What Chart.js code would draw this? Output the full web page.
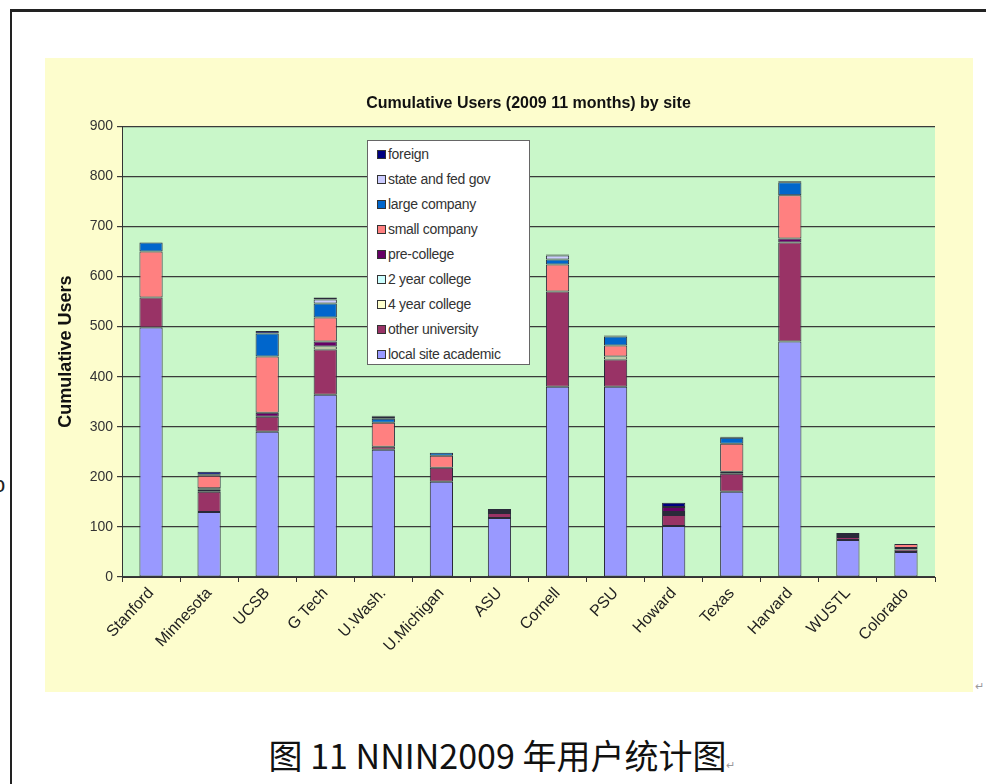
<!DOCTYPE html>
<html lang="zh">
<head>
    <meta charset="UTF-8">
    <title>Cumulative Users (2009 11 months) by site</title>
    <script src="https://cdn.jsdelivr.net/npm/chart.js"></script>
    <style>
        body {
            margin: 0;
            width: 986px;
            height: 784px;
            background: #ffffff;
            position: relative;
            overflow: hidden;
            font-family: Arial, 'Liberation Sans', sans-serif;
        }
        .frame {
            position: absolute;
            left: 10px;
            top: 9px;
            width: 990px;
            height: 800px;
            border-top: 3px solid #222;
            border-left: 2px solid #222;
        }
        .chart-box {
            position: absolute;
            left: 45px;
            top: 58px;
            width: 928px;
            height: 634px;
            background: #fdfdcd;
        }
        #legend {
            position: absolute;
            left: 367px;
            top: 140px;
            width: 163px;
            height: 225px;
            background: #ffffff;
            border: 1px solid #666;
            box-sizing: border-box;
            padding-top: 3px;
        }
        #legend div {
            height: 25px;
            line-height: 20px;
            font-size: 14px;
            color: #333;
            padding-left: 9px;
            white-space: nowrap;
            letter-spacing: -0.3px;
        }
        #legend span {
            display: inline-block;
            width: 7px;
            height: 7px;
            border: 1px solid #333;
            margin-right: 2px;
            vertical-align: 0px;
        }
        .caption {
            position: absolute;
            left: 0;
            width: 1004px;
            top: 730px;
            text-align: center;
            font-family: 'Noto Sans CJK SC', sans-serif;
            font-size: 34px;
            color: #111;
        }
        .caption small, .mark {
            font-size: 11px;
            color: #999;
        }
        .mark {
            position: absolute;
            left: 975px;
            top: 680px;
        }
        .cut {
            position: absolute;
            left: -7px;
            top: 472px;
            font-size: 22px;
            color: #222;
        }
    </style>
</head>
<body>
    <div class="frame"></div>
    <div class="cut">o</div>
    <div class="chart-box"><canvas id="usersChart" width="928" height="634"></canvas></div>
    <div id="legend"></div>
    <div class="mark">↵</div>
    <div class="caption">图 11 NNIN2009 年用户统计图<small>↵</small></div>
    <script>
        const sites = ['Stanford', 'Minnesota', 'UCSB', 'G Tech', 'U.Wash.', 'U.Michigan', 'ASU',
            'Cornell', 'PSU', 'Howard', 'Texas', 'Harvard', 'WUSTL', 'Colorado'];

        // 各站点用户构成
        const localAcademic   = [498, 130, 290, 364, 254, 190, 118, 380, 380, 102, 170, 470, 74, 50];
        const otherUniversity = [60, 40, 30, 90, 6, 28, 10, 190, 54, 22, 36, 198, 6, 5];
        const fourYearCollege = [0, 4, 0, 6, 0, 0, 0, 0, 6, 2, 0, 0, 0, 0];
        const twoYearCollege  = [0, 0, 0, 0, 0, 0, 0, 0, 0, 4, 0, 0, 0, 0];
        const preCollege      = [0, 3, 8, 10, 0, 0, 4, 0, 0, 10, 4, 8, 4, 3];
        const smallCompany    = [92, 25, 112, 48, 48, 24, 2, 54, 22, 0, 56, 86, 0, 8];
        const largeCompany    = [18, 2, 46, 28, 8, 6, 0, 10, 18, 0, 12, 26, 0, 0];
        const stateFedGov     = [0, 0, 0, 8, 4, 0, 0, 8, 0, 0, 0, 0, 0, 0];
        const foreign         = [0, 6, 5, 4, 2, 0, 2, 2, 2, 8, 2, 2, 4, 0];

        const yTicks = [0, 100, 200, 300, 400, 500, 600, 700, 800, 900];

        const series = [
            { label: 'local site academic', data: localAcademic, color: '#9999ff' },
            { label: 'other university', data: otherUniversity, color: '#993366' },
            { label: '4 year college', data: fourYearCollege, color: '#ffffcc' },
            { label: '2 year college', data: twoYearCollege, color: '#ccffff' },
            { label: 'pre-college', data: preCollege, color: '#660066' },
            { label: 'small company', data: smallCompany, color: '#ff8080' },
            { label: 'large company', data: largeCompany, color: '#0066cc' },
            { label: 'state and fed gov', data: stateFedGov, color: '#ccccff' },
            { label: 'foreign', data: foreign, color: '#000080' }
        ];

        // legend, reversed like Excel
        const legend = document.getElementById('legend');
        series.slice().reverse().forEach(s => {
            const row = document.createElement('div');
            row.innerHTML = `<span style="background:${s.color}"></span>${s.label}`;
            legend.appendChild(row);
        });

        const plotBackground = {
            id: 'plotBackground',
            beforeDraw(chart) {
                const { ctx, chartArea: a } = chart;
                ctx.save();
                ctx.fillStyle = '#c9f7c9';
                ctx.fillRect(a.left, a.top, a.right - a.left, a.bottom - a.top);
                ctx.restore();
            }
        };

        new Chart(document.getElementById('usersChart'), {
            type: 'bar',
            data: {
                labels: sites,
                datasets: series.map(s => ({
                    label: s.label,
                    data: s.data.map(v => v === 0 ? null : v),
                    backgroundColor: s.color,
                    borderColor: '#2a2a3a',
                    borderWidth: 1,
                    borderSkipped: false,
                    barPercentage: 0.4,
                    categoryPercentage: 1
                }))
            },
            options: {
                responsive: false,
                animation: false,
                layout: { padding: { left: 0, right: 38, top: 0, bottom: 0 } },
                plugins: {
                    legend: { display: false },
                    tooltip: { enabled: false },
                    title: {
                        display: true,
                        fullSize: false,
                        text: 'Cumulative Users (2009 11 months) by site',
                        color: '#111',
                        font: { family: 'Arial, "Liberation Sans"', size: 16, weight: 'bold' },
                        padding: { top: 36, bottom: 13 }
                    }
                },
                scales: {
                    x: {
                        stacked: true,
                        grid: { offset: true, drawOnChartArea: false, drawTicks: true, tickLength: 5, color: '#333' },
                        border: { color: '#333' },
                        ticks: {
                            color: '#222',
                            font: { family: 'Arial, "Liberation Sans"', size: 16 },
                            minRotation: 47,
                            maxRotation: 47,
                            padding: 2
                        },
                        afterFit: s => { s.height = 115; }
                    },
                    y: {
                        stacked: true,
                        min: 0,
                        max: 900,
                        afterBuildTicks: s => { s.ticks = yTicks.map(v => ({ value: v })); },
                        grid: { color: '#3a3a3a', tickLength: 5, lineWidth: 1.2 },
                        border: { color: '#333' },
                        ticks: {
                            color: '#333',
                            font: { family: 'Arial, "Liberation Sans"', size: 14 },
                            padding: 4
                        },
                        title: {
                            display: true,
                            text: 'Cumulative Users',
                            color: '#111',
                            font: { family: 'Arial, "Liberation Sans"', size: 18, weight: 'bold' },
                            padding: { top: 10, bottom: 6 }
                        },
                        afterFit: s => { s.width = 77; }
                    }
                }
            },
            plugins: [plotBackground]
        });
    </script>
</body>
</html>
